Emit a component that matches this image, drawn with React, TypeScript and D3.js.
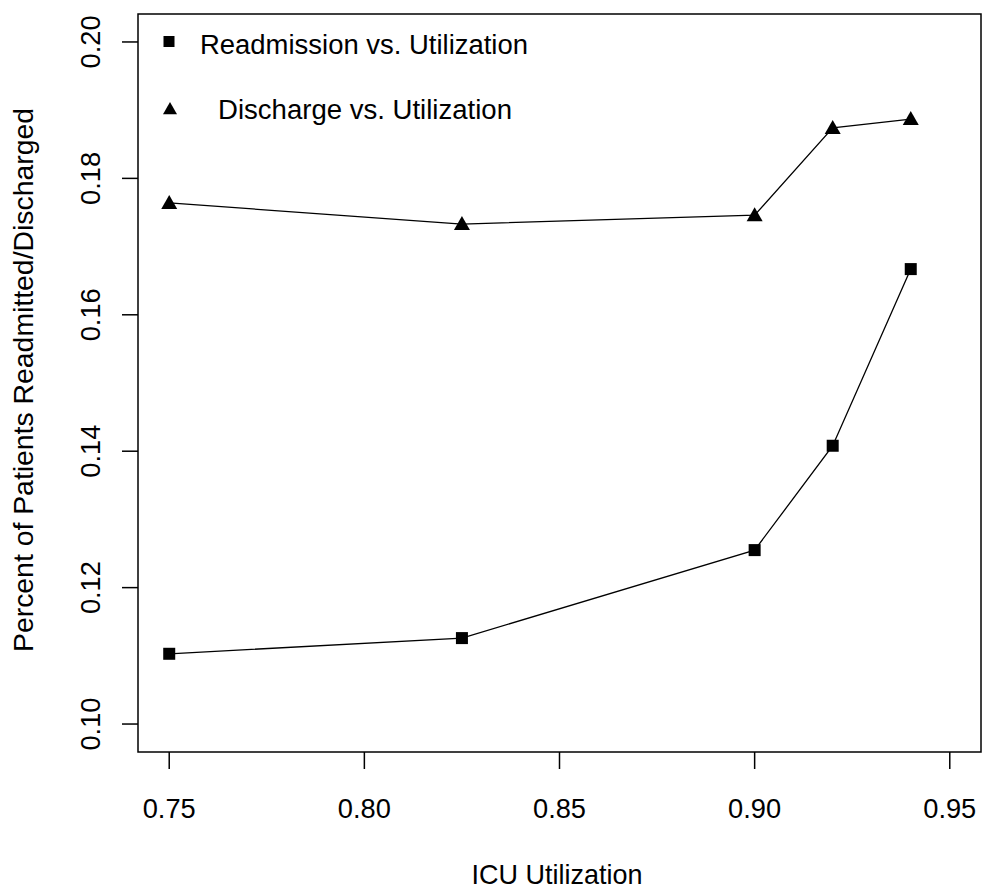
import React from "react";
import * as d3 from "d3";

const utilization = [0.75, 0.825, 0.9, 0.92, 0.94];
const readmission = [0.1103, 0.1126, 0.1255, 0.1408, 0.1667];
const discharge = [0.1764, 0.1733, 0.1746, 0.1874, 0.1887];
const xTicks = [0.75, 0.8, 0.85, 0.9, 0.95];
const yTicks = [0.1, 0.12, 0.14, 0.16, 0.18, 0.2];
const legendLabels = ["Readmission vs. Utilization", "Discharge vs. Utilization"];
const xTitle = "ICU Utilization";
const yTitle = "Percent of Patients Readmitted/Discharged";

export default function App() {
  const W = 982, H = 890;
  const left = 138, right = 981, top = 14, bottom = 752;
  const x = d3.scaleLinear().domain([0.742, 0.958]).range([left, right]);
  const y = d3.scaleLinear().domain([0.0959, 0.2041]).range([bottom, top]);
  const line = d3.line<number>().x((_, i) => x(utilization[i])).y((d) => y(d));
  const font = "'Liberation Sans', Arial, sans-serif";
  const tri = (cx: number, cy: number, s = 8) =>
    `M${cx},${cy - s} L${cx + s},${cy + s * 0.75} L${cx - s},${cy + s * 0.75} Z`;
  return (
    <svg width={W} height={H} style={{ position: "absolute", left: 0, top: 0, background: "#fff" }}>
      <rect x={left} y={top} width={right - left} height={bottom - top} fill="none" stroke="#000" strokeWidth={1.5} />
      {xTicks.map((t) => (
        <g key={t}>
          <line x1={x(t)} x2={x(t)} y1={bottom} y2={bottom + 17} stroke="#000" strokeWidth={1.5} />
          <text x={x(t)} y={818} textAnchor="middle" fontFamily={font} fontSize={27} fill="#000" textLength={53} lengthAdjust="spacingAndGlyphs">
            {t.toFixed(2)}
          </text>
        </g>
      ))}
      {yTicks.map((t) => (
        <g key={t}>
          <line x1={left - 16} x2={left} y1={y(t)} y2={y(t)} stroke="#000" strokeWidth={1.5} />
          <text
            transform={`translate(100,${y(t)}) rotate(-90)`}
            textAnchor="middle"
            fontFamily={font}
            fontSize={27}
            fill="#000"
            textLength={53}
            lengthAdjust="spacingAndGlyphs"
          >
            {t.toFixed(2)}
          </text>
        </g>
      ))}
      <text x={557} y={884} textAnchor="middle" fontFamily={font} fontSize={28} fill="#000" textLength={171} lengthAdjust="spacingAndGlyphs">
        {xTitle}
      </text>
      <text
        transform={`translate(33,${380}) rotate(-90)`}
        textAnchor="middle"
        fontFamily={font}
        fontSize={28}
        fill="#000"
        textLength={544}
        lengthAdjust="spacingAndGlyphs"
      >
        {yTitle}
      </text>
      <path d={line(readmission) || ""} fill="none" stroke="#000" strokeWidth={1.3} />
      <path d={line(discharge) || ""} fill="none" stroke="#000" strokeWidth={1.3} />
      {readmission.map((v, i) => (
        <rect key={i} x={x(utilization[i]) - 6} y={y(v) - 6} width={12} height={12} fill="#000" />
      ))}
      {discharge.map((v, i) => (
        <path key={i} d={tri(x(utilization[i]), y(v))} fill="#000" />
      ))}
      <rect x={163.5} y={36} width={11} height={11} fill="#000" />
      <text x={200} y={54} fontFamily={font} fontSize={27} fill="#000" textLength={328} lengthAdjust="spacingAndGlyphs">
        {legendLabels[0]}
      </text>
      <path d={tri(170, 109, 7)} fill="#000" />
      <text x={218} y={119} fontFamily={font} fontSize={27} fill="#000" textLength={294} lengthAdjust="spacingAndGlyphs">
        {legendLabels[1]}
      </text>
    </svg>
  );
}
